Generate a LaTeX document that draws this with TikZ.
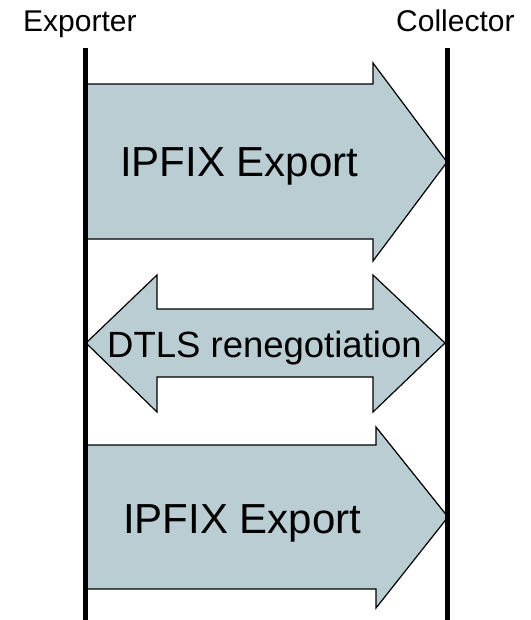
\documentclass[tikz,border=0pt]{standalone}
\usepackage{fontspec}
\setmainfont{Liberation Sans}
\definecolor{flowfill}{RGB}{185,205,211}
\tikzset{
  flow/.style={draw=black, line width=1.2pt, fill=flowfill, line join=miter},
  lifeline/.style={draw=black, line width=5pt},
  party/.style={font=\fontsize{30}{36}\selectfont, anchor=base west, inner sep=0pt},
  bigtext/.style={font=\fontsize{42}{50}\selectfont, anchor=base west, inner sep=0pt},
  midtext/.style={font=\fontsize{36.5}{44}\selectfont, anchor=base west, inner sep=0pt}
}
\begin{document}
\begin{tikzpicture}[x=1pt, y=-1pt]
  \useasboundingbox (0,0) rectangle (530,620);

  % participant labels
  \node[party] (exp) at (23,32) {Exporter};
  \node[party] (col) at (396,32) {Collector};

  % lifeline end points
  \coordinate (expTop) at (85,48);
  \coordinate (expBot) at (85,620);
  \coordinate (colTop) at (447,48);
  \coordinate (colBot) at (447,620);

  % first export arrow
  \path[flow] (86,84) -- (373,84) -- (373,63) -- (447,162) -- (373,261)
    -- (373,239) -- (86,239) -- cycle;
  \node[bigtext] (exp1) at (120,177) {IPFIX Export};

  % renegotiation double arrow
  \path[flow] (86,343) -- (157,275) -- (157,309) -- (373,309) -- (373,275)
    -- (445,343) -- (373,412) -- (373,377) -- (157,377) -- (157,412) -- cycle;
  \node[midtext] (dtls) at (107,357) {DTLS renegotiation};

  % second export arrow
  \path[flow] (86,445) -- (376,445) -- (376,427) -- (448,517) -- (376,608)
    -- (376,589) -- (86,589) -- cycle;
  \node[bigtext] (exp2) at (123,533) {IPFIX Export};

  % lifelines
  \draw[lifeline] (expTop) -- (expBot);
  \draw[lifeline] (colTop) -- (colBot);
\end{tikzpicture}
\end{document}
